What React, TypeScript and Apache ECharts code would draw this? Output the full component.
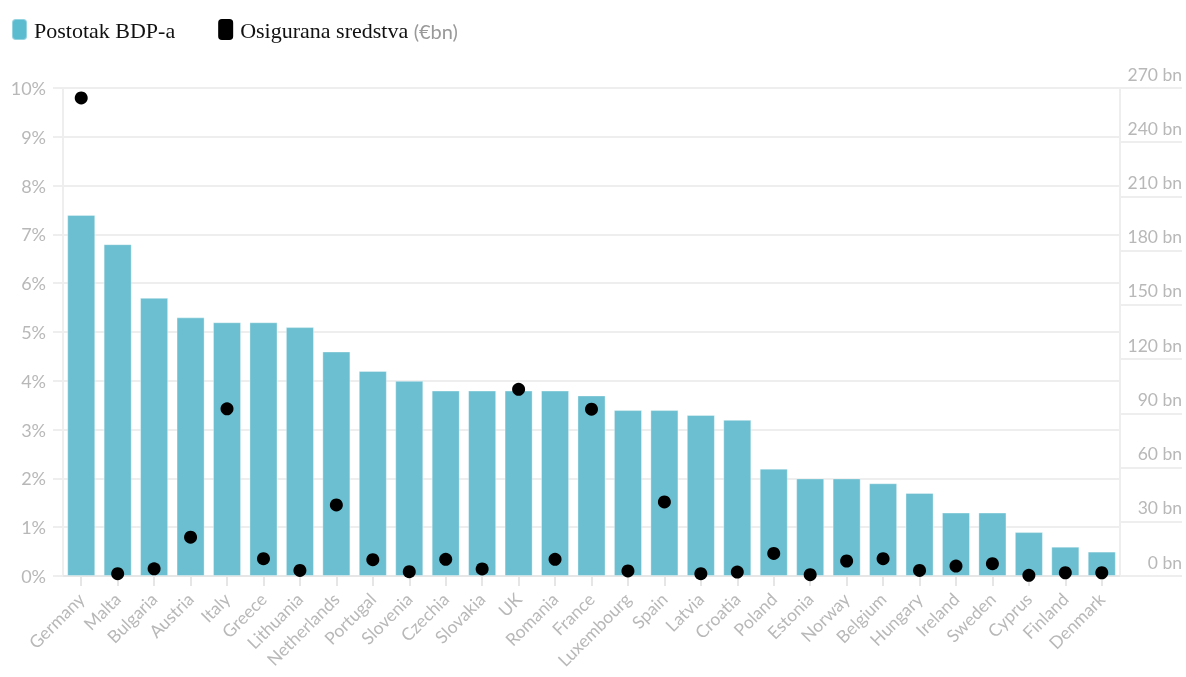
import React, { useEffect, useRef } from "react";
import * as echarts from "echarts";

const countries = [
  "Germany", "Malta", "Bulgaria", "Austria", "Italy", "Greece", "Lithuania", "Netherlands",
  "Portugal", "Slovenia", "Czechia", "Slovakia", "UK", "Romania", "France", "Luxembourg",
  "Spain", "Latvia", "Croatia", "Poland", "Estonia", "Norway", "Belgium", "Hungary",
  "Ireland", "Sweden", "Cyprus", "Finland", "Denmark",
];

const gdpShare = [
  7.4, 6.8, 5.7, 5.3, 5.2, 5.2, 5.1, 4.6, 4.2, 4.0, 3.8, 3.8, 3.8, 3.8, 3.7, 3.4,
  3.4, 3.3, 3.2, 2.2, 2.0, 2.0, 1.9, 1.7, 1.3, 1.3, 0.9, 0.6, 0.5,
];

const securedFunds = [
  264.5, 1.3, 4, 21.5, 92.5, 9.6, 3.1, 39.3, 9, 2.4, 9.2, 3.9, 103.3, 9.2, 92.3, 2.8,
  41, 1.3, 2.2, 12.5, 0.7, 8.3, 9.6, 3.1, 5.5, 6.8, 0.4, 1.8, 1.8,
];

const leftTicks = { min: 0, max: 10, interval: 1 };
const rightTicks = { min: 0, max: 270, interval: 30 };

const seriesNames = ["Postotak BDP-a", "Osigurana sredstva"];

export default function App() {
  const ref = useRef<HTMLDivElement>(null);

  useEffect(() => {
    if (!ref.current) return;
    const chart = echarts.init(ref.current, null, { renderer: "svg" });
    const axisFont = "Lato, 'Open Sans', sans-serif";
    chart.setOption({
      animation: false,
      legend: {
        left: 6,
        top: 13,
        itemWidth: 15,
        itemHeight: 21,
        itemGap: 43,
        icon: "roundRect",
        selectedMode: false,
        data: [
          { name: seriesNames[0], itemStyle: { color: "#5bbcd0", opacity: 1 } },
          { name: seriesNames[1], itemStyle: { color: "#000", opacity: 1 } },
        ],
        formatter: (name: string) =>
          name === seriesNames[1] ? name + " {g|(€bn)}" : name,
        textStyle: {
          fontFamily: "'Liberation Serif', 'DejaVu Serif', serif",
          fontSize: 22,
          color: "#111",
          padding: [2, 0, 0, 2],
          rich: {
            g: {
              fontFamily: axisFont,
              fontSize: 20,
              color: "#999",
            },
          },
        },
      },
      grid: { left: 63, right: 66, top: 88, bottom: 101, containLabel: false },
      xAxis: {
        type: "category",
        data: countries,
        boundaryGap: true,
        axisLine: { show: true, lineStyle: { color: "#e6e6e6", width: 2 } },
        axisTick: { show: true, alignWithLabel: true, length: 10, lineStyle: { color: "#e6e6e6", width: 2 } },
        axisLabel: {
          rotate: 45,
          interval: 0,
          margin: 20,
          color: "#b8b8b8",
          fontFamily: axisFont,
          fontSize: 17.5,
        },
      },
      yAxis: [
        {
          type: "value",
          position: "left",
          min: leftTicks.min,
          max: leftTicks.max,
          interval: leftTicks.interval,
          axisLine: { show: true, lineStyle: { color: "#eeeeee", width: 2 } },
          axisTick: { show: true, length: 10, lineStyle: { color: "#eeeeee", width: 2 } },
          splitLine: { show: true, lineStyle: { color: "#eeeeee", width: 2 } },
          axisLabel: {
            formatter: "{value}%",
            color: "#b8b8b8",
            fontFamily: axisFont,
            fontSize: 18,
            margin: 17,
          },
        },
        {
          type: "value",
          position: "right",
          min: rightTicks.min,
          max: rightTicks.max,
          interval: rightTicks.interval,
          axisLine: { show: true, lineStyle: { color: "#eeeeee", width: 2 } },
          axisTick: { show: true, length: 62, lineStyle: { color: "#eeeeee", width: 2 } },
          splitLine: { show: false },
          axisLabel: {
            formatter: "{value} bn",
            color: "#b8b8b8",
            fontFamily: axisFont,
            fontSize: 17.5,
            align: "right",
            verticalAlign: "bottom",
            margin: 62,
            padding: [0, 0, 5, 0],
          },
        },
      ],
      series: [
        {
          name: seriesNames[0],
          type: "bar",
          yAxisIndex: 0,
          data: gdpShare,
          barCategoryGap: "23%",
          itemStyle: {
            color: "#6cbfd0",
            borderColor: "rgba(255,255,255,0.35)",
            borderWidth: 1,
          },
        },
        {
          name: seriesNames[1],
          type: "scatter",
          yAxisIndex: 1,
          data: securedFunds,
          symbol: "circle",
          symbolSize: 13,
          itemStyle: { color: "#000", opacity: 1 },
          z: 5,
        },
      ],
    });
    return () => chart.dispose();
  }, []);

  return (
    <div
      ref={ref}
      style={{ position: "fixed", left: 0, top: 0, width: 1186, height: 677 }}
    />
  );
}
